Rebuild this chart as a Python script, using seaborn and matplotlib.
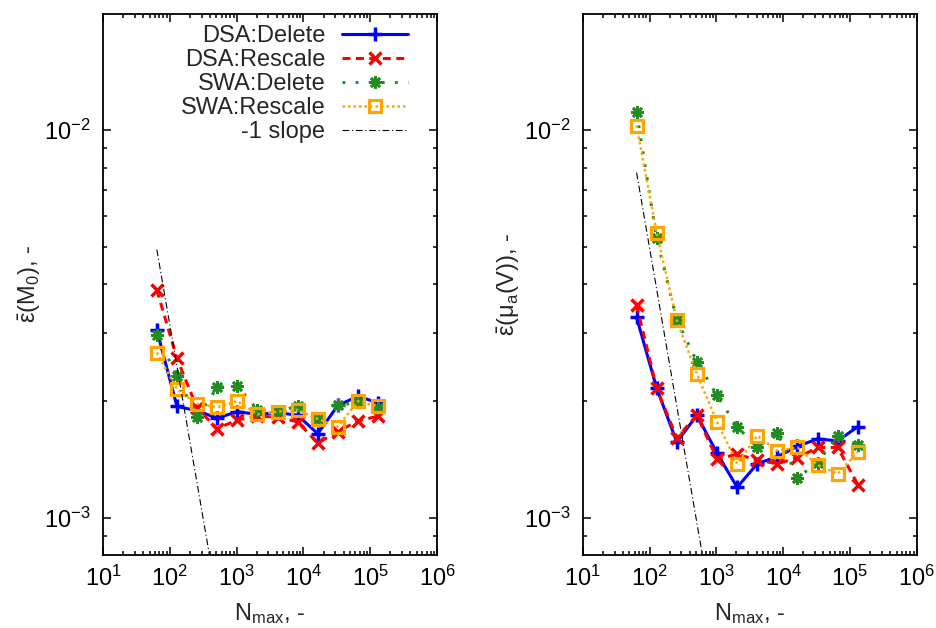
import numpy as np
import pandas as pd
import matplotlib
matplotlib.use("Agg")
import matplotlib.pyplot as plt
import matplotlib.ticker as mticker
import seaborn as sns

# Sample-size sweep, N_max = 2^6 ... 2^17
n_max = [64, 128, 256, 512, 1024, 2048, 4096, 8192, 16384, 32768, 65536, 131072]

# Mean relative error of M0
m0_dsa_delete = [3.05e-3, 1.94e-3, 1.89e-3, 1.81e-3, 1.88e-3, 1.85e-3,
                 1.87e-3, 1.84e-3, 1.65e-3, 1.95e-3, 2.06e-3, 1.98e-3]
m0_dsa_rescale = [3.87e-3, 2.58e-3, 1.92e-3, 1.70e-3, 1.79e-3, 1.83e-3,
                  1.82e-3, 1.77e-3, 1.56e-3, 1.67e-3, 1.78e-3, 1.83e-3]
m0_swa_delete = [2.96e-3, 2.32e-3, 1.82e-3, 2.17e-3, 2.19e-3, 1.90e-3,
                 1.89e-3, 1.94e-3, 1.80e-3, 1.95e-3, 1.99e-3, 1.92e-3]
m0_swa_rescale = [2.67e-3, 2.15e-3, 1.97e-3, 1.93e-3, 2.00e-3, 1.85e-3,
                  1.88e-3, 1.90e-3, 1.80e-3, 1.72e-3, 2.00e-3, 1.94e-3]

# Mean relative error of mu_a(V)
mu_dsa_delete = [3.29e-3, 2.16e-3, 1.57e-3, 1.84e-3, 1.47e-3, 1.20e-3,
                 1.38e-3, 1.44e-3, 1.53e-3, 1.60e-3, 1.58e-3, 1.72e-3]
mu_dsa_rescale = [3.54e-3, 2.16e-3, 1.61e-3, 1.84e-3, 1.42e-3, 1.46e-3,
                  1.41e-3, 1.38e-3, 1.43e-3, 1.52e-3, 1.52e-3, 1.22e-3]
mu_swa_delete = [1.11e-2, 5.26e-3, 3.24e-3, 2.53e-3, 2.07e-3, 1.72e-3,
                 1.52e-3, 1.66e-3, 1.27e-3, 1.39e-3, 1.63e-3, 1.54e-3]
mu_swa_rescale = [1.026e-2, 5.42e-3, 3.23e-3, 2.35e-3, 1.77e-3, 1.38e-3,
                  1.63e-3, 1.49e-3, 1.52e-3, 1.37e-3, 1.30e-3, 1.48e-3]

# -1 slope guide lines: err = c / N
slope_x = [64, 2000]
slope_c_m0 = 0.315
slope_c_mu = 0.497

series_names = ["DSA:Delete", "DSA:Rescale", "SWA:Delete", "SWA:Rescale"]

styles = {
    "DSA:Delete": dict(color="#0000ff", markeredgecolor="#0000ff", linestyle="-",
                       marker="+", markersize=10, markeredgewidth=2.5, linewidth=2.2),
    "DSA:Rescale": dict(color="#ff0000", markeredgecolor="#ff0000",
                        linestyle=(0, (2.6, 1.8)), marker="x",
                        markersize=8.5, markeredgewidth=2.5, linewidth=2.2),
    "SWA:Delete": dict(color="#228b22", markeredgecolor="#228b22",
                       linestyle=(0, (0.9, 3.4)), marker=(8, 2, 0),
                       markersize=9, markeredgewidth=1.9, linewidth=2.2),
    "SWA:Rescale": dict(color="#ffa500", markeredgecolor="#ffa500",
                        linestyle=(0, (1.0, 1.2)), marker="s",
                        markersize=9, markeredgewidth=2.3, markerfacecolor="none",
                        linewidth=1.8),
}

sns.set_theme(style="ticks")
plt.rcParams.update({
    "font.family": ["Liberation Sans", "DejaVu Sans"],
    "mathtext.fontset": "custom",
    "mathtext.rm": "Liberation Sans",
    "mathtext.it": "Liberation Sans",
    "mathtext.default": "regular",
    "axes.unicode_minus": False,
    "font.size": 17,
})

FS = 17

fig = plt.figure(figsize=(9.37, 6.28), dpi=100)
ax_l = fig.add_axes([0.1099, 0.1162, 0.3565, 0.8615])
ax_r = fig.add_axes([0.6219, 0.1162, 0.3565, 0.8615])

panels = [
    (ax_l, [m0_dsa_delete, m0_dsa_rescale, m0_swa_delete, m0_swa_rescale],
     slope_c_m0, r"$\bar{\varepsilon}$(M$_0$), -"),
    (ax_r, [mu_dsa_delete, mu_dsa_rescale, mu_swa_delete, mu_swa_rescale],
     slope_c_mu, r"$\bar{\varepsilon}$($\mu_a$(V)), -"),
]

for ax, values, c, ylabel in panels:
    for name, vals in zip(series_names, values):
        df = pd.DataFrame({"N": n_max, "err": vals})
        sns.lineplot(data=df, x="N", y="err", ax=ax, label=name,
                     legend=False, **styles[name])
    sx = np.array(slope_x, dtype=float)
    ax.plot(sx, c / sx, color="black", linestyle=(0, (6, 2.5, 1, 2.5)),
            linewidth=0.8, label="-1 slope")

    ax.set_xscale("log")
    ax.set_yscale("log")
    ax.set_xlim(10, 1e6)
    ax.set_ylim(8.03e-4, 1.99e-2)
    ax.xaxis.set_major_locator(mticker.LogLocator(base=10, numticks=10))
    ax.xaxis.set_minor_locator(mticker.LogLocator(base=10, subs=np.arange(2, 10), numticks=20))
    ax.yaxis.set_major_locator(mticker.LogLocator(base=10, numticks=10))
    ax.yaxis.set_minor_locator(mticker.LogLocator(base=10, subs=np.arange(2, 10), numticks=20))
    ax.xaxis.set_minor_formatter(mticker.NullFormatter())
    ax.yaxis.set_minor_formatter(mticker.NullFormatter())
    ax.tick_params(which="both", direction="in", top=True, right=True,
                   labelsize=FS, colors="black", width=1.1)
    ax.tick_params(which="major", length=6)
    ax.tick_params(which="minor", length=3)
    ax.tick_params(axis="x", which="major", pad=8)
    ax.tick_params(axis="y", which="major", pad=9)
    for sp in ax.spines.values():
        sp.set_visible(True)
        sp.set_color("black")
        sp.set_linewidth(1.3)
    ax.set_xlabel("N$_{max}$, -", fontsize=FS, labelpad=7)
    ax.set_ylabel(ylabel, fontsize=FS, labelpad=1)
    ax.grid(False)

leg = ax_l.legend(loc="upper right", bbox_to_anchor=(0.913, 0.98), frameon=False,
                  markerfirst=False, fontsize=FS, handlelength=2.8,
                  labelspacing=0.09, handletextpad=0.7, borderaxespad=0.0,
                  borderpad=0.0)

fig.savefig("out.png", dpi=100)
